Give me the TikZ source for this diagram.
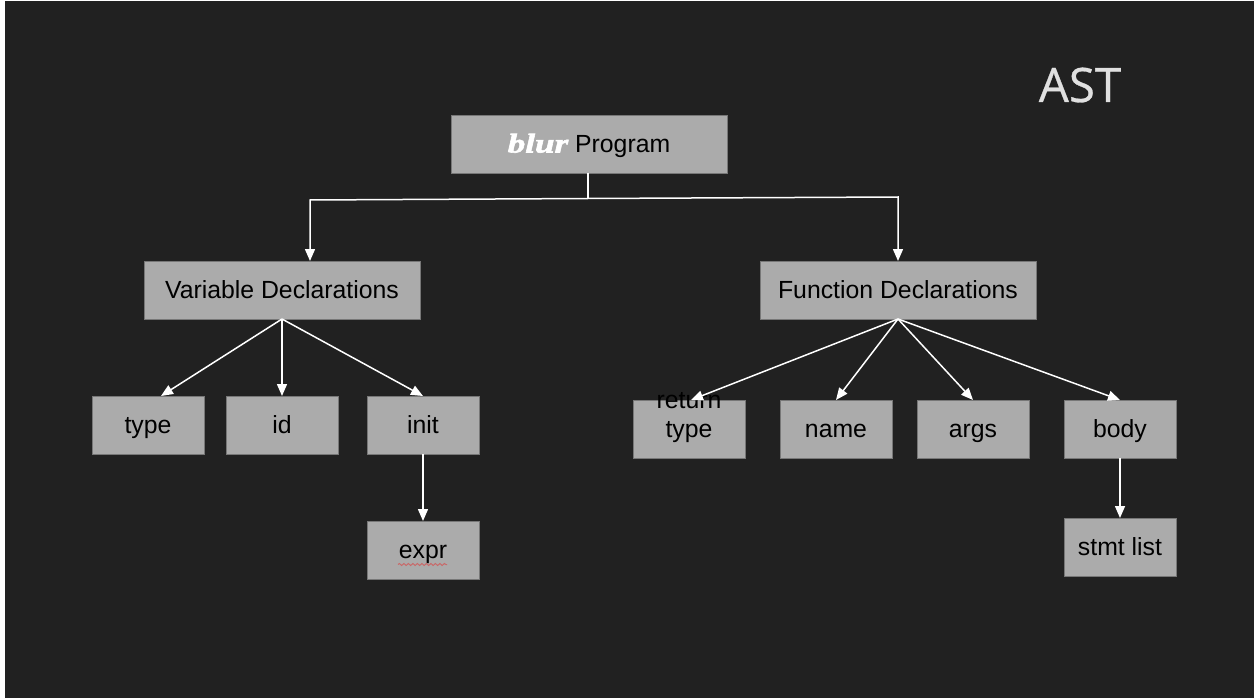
\documentclass[tikz,border=0pt]{standalone}
\usepackage{fontspec}
\setmainfont{Liberation Sans}
\newfontfamily\blurfont[FakeStretch=1.3,FakeBold=2.2]{Liberation Serif Bold Italic}
\newfontfamily\titlefont[FakeBold=0.6]{Open Sans}
\usetikzlibrary{arrows.meta,decorations.pathmorphing}
\definecolor{bgdark}{HTML}{212121}
\definecolor{boxgray}{HTML}{ABABAB}
\definecolor{boxedge}{HTML}{777777}
\definecolor{titlegray}{HTML}{E0E0E0}
\definecolor{squiggle}{HTML}{C86A6A}
\tikzset{
  astbox/.style={draw=boxedge,line width=0.8pt,fill=boxgray,text=black,inner sep=0pt,outer sep=0pt,align=center,
    font=\fontsize{24.8}{29}\selectfont,text height=17pt,text depth=0pt},
  wide/.style={astbox,minimum width=276pt,minimum height=58pt},
  small/.style={astbox,minimum width=112pt,minimum height=58pt},
  link/.style={draw=white,line width=1.5pt},
  arrowlink/.style={link,-{Triangle[width=10pt,length=12pt,fill=white]}},
}
\begin{document}
\begin{tikzpicture}[x=1pt,y=-1pt]
\useasboundingbox (0,0) rectangle (1254,698);
\fill[white] (0,0) rectangle (1254,698);
\fill[bgdark] (5,1) rectangle (1254,698);
\node[font=\titlefont\fontsize{47.5}{56}\selectfont,text=titlegray,anchor=base] (title) at (1080,102) {AST};
\node[wide] (root) at (589,144) {\textcolor{white}{\blurfont\fontsize{27}{29}\selectfont blur} Program};
\node[wide] (var) at (282,290) {Variable Declarations};
\node[wide] (fun) at (898,290) {Function Declarations};
\node[small] (type) at (148,425) {type};
\node[small] (id) at (282,425) {id};
\node[small] (init) at (423,425) {init};
\node[small] (expr) at (423,550) {expr};
\node[small] (ret) at (689,429) {return\\type};
\node[small] (name) at (836,429) {name};
\node[small] (args) at (973,429) {args};
\node[small] (body) at (1120,429) {body};
\node[small] (stmt) at (1120,547) {stmt list};
\coordinate (fork) at (588,198.5);
\coordinate (forkL) at (310,200);
\coordinate (forkR) at (898,197);
\coordinate (retTip) at (691,400);
\coordinate (typeTip) at (161,396);
\draw[link] (root.south -| fork) -- (fork);
\draw[arrowlink] (fork) -- (forkL) -- (var.north -| forkL);
\draw[arrowlink] (fork) -- (forkR) -- (fun.north -| forkR);
\draw[arrowlink] (var.south) -- (typeTip);
\draw[arrowlink] (var.south) -- (id.north);
\draw[arrowlink] (var.south) -- (init.north);
\draw[arrowlink] (init.south) -- (expr.north);
\draw[arrowlink] (fun.south) -- (retTip);
\draw[arrowlink] (fun.south) -- (name.north);
\draw[arrowlink] (fun.south) -- (args.north);
\draw[arrowlink] (fun.south) -- (body.north);
\draw[arrowlink] (body.south) -- (stmt.north);
\draw[squiggle,line width=1pt,decorate,decoration={snake,amplitude=1pt,segment length=4.5pt}] (398,564.5) -- (447,564.5);
\end{tikzpicture}
\end{document}
